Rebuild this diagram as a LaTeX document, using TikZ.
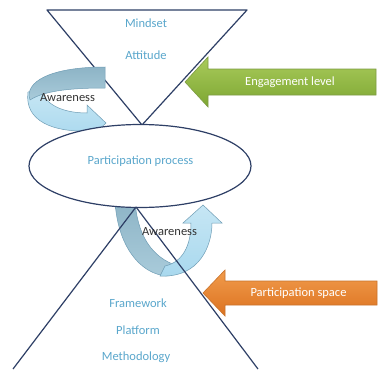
\documentclass[tikz,border=0pt]{standalone}
\usepackage{fontspec}
\setmainfont{Carlito}
\usetikzlibrary{shapes.geometric}
\definecolor{navy}{HTML}{2E3F66}
\definecolor{lbl}{HTML}{5AA7CC}
\definecolor{darkband}{HTML}{8DB4C6}
\definecolor{darkbandB}{HTML}{A9CBDA}
\definecolor{lightband}{HTML}{C6E6F4}
\definecolor{lightbandB}{HTML}{A8D8EE}
\definecolor{bandedge}{HTML}{6F9DB5}
\definecolor{gtop}{HTML}{A9CB5B}
\definecolor{gbot}{HTML}{7DA632}
\definecolor{gedge}{HTML}{7E9C44}
\definecolor{otop}{HTML}{F29C4C}
\definecolor{obot}{HTML}{DB7220}
\definecolor{oedge}{HTML}{C9732C}
\tikzset{
  txt/.style={font=\fontsize{12.5}{15}\selectfont, inner sep=0pt},
  lbltxt/.style={txt, text=lbl},
  outline/.style={draw=navy, line width=1.2pt},
  darkpart/.style={draw=bandedge, line width=0.5pt, top color=darkband, bottom color=darkbandB},
  lightpart/.style={draw=bandedge, line width=0.5pt, top color=lightband, bottom color=lightbandB},
}
\begin{document}
\begin{tikzpicture}[x=1pt,y=-1pt]
\useasboundingbox[fill=white] (0,0) rectangle (379,369);
% top inverted triangle
\coordinate (tl) at (47,10);
\coordinate (tr) at (247,10);
\coordinate (ta) at (142,125);
\draw[outline, line join=round] (tl) -- (tr) -- (ta) -- cycle;
% bottom triangle
\coordinate (ba) at (136,207);
\coordinate (bl) at (13,369);
\coordinate (br) at (258,369);
% top curved arrow
\draw[lightpart] (28,92) .. controls (24,122) and (55,132) .. (87,131) -- (87,141) -- (106,123) -- (87,105) -- (87,113) .. controls (62,113) and (45,104) .. (42,91) -- cycle;
\draw[darkpart] (105,67) -- (105,88) .. controls (75,88) and (45,90) .. (30,100) .. controls (24,82) and (50,67) .. (105,67) -- cycle;
% bottom curved arrow
\draw[darkpart] (115,200) .. controls (117,245) and (140,275) .. (168,276) -- (178,266) .. controls (152,258) and (137,235) .. (135,200) -- cycle;
\draw[lightpart] (160,276) .. controls (200,278) and (212,245) .. (212,223) -- (222,223) -- (203,205) -- (183,223) -- (191,223) .. controls (191,245) and (183,262) .. (165,266) -- cycle;
% ellipse
\node[outline, fill=white, ellipse, minimum width=222pt, minimum height=83pt, inner sep=0pt] (proc) at (140,166) {};
\draw[outline] (ba) -- (bl);
\draw[outline] (ba) -- (br);
% engagement arrow
\draw[gedge, line width=0.6pt, top color=gtop, bottom color=gbot] (185,82) -- (208,57) -- (208,69) -- (376,69) -- (376,95) -- (208,95) -- (208,107) -- cycle;
% participation space arrow
\draw[oedge, line width=0.6pt, top color=otop, bottom color=obot] (203,293) -- (225,270) -- (225,281) -- (377,281) -- (377,305) -- (225,305) -- (225,316) -- cycle;
% texts
\node[lbltxt] (mindset) at (146,23) {Mindset};
\node[lbltxt] (attitude) at (146,55) {Attitude};
\node[lbltxt] (ptext) at (140.5,161) {Participation process};
\node[lbltxt] (frame) at (138,303) {Framework};
\node[lbltxt] (plat) at (138,330) {Platform};
\node[lbltxt] (meth) at (136,357) {Methodology};
\node[txt, text=black!80] (aw1) at (67.5,98) {Awareness};
\node[txt, text=black!80] (aw2) at (169.5,232) {Awareness};
\node[txt, text=white] (eng) at (290,82) {Engagement level};
\node[txt, text=white] (pspace) at (298.5,293) {Participation space};
\end{tikzpicture}
\end{document}
